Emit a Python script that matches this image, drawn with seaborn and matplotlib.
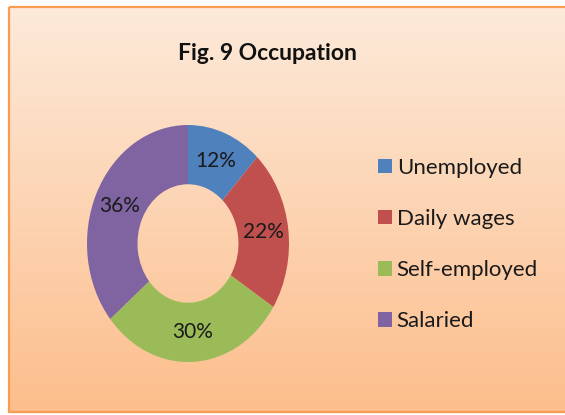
import numpy as np
import matplotlib
matplotlib.use("Agg")
import matplotlib.pyplot as plt
from matplotlib.patches import Rectangle, Patch
import seaborn as sns

categories = ["Unemployed", "Daily wages", "Self-employed", "Salaried"]
values = [12, 22, 30, 36]
title = "Fig. 9 Occupation"

sns.set_theme(style="white")
plt.rcParams['font.family'] = ['Lato', 'DejaVu Sans']
colors = ["#4F81BD", "#C0504D", "#9BBB59", "#8064A2"]

W, H = 565, 415
fig = plt.figure(figsize=(W / 100, H / 100), dpi=100)
fig.patch.set_facecolor("white")

# background gradient panel
bg = fig.add_axes([0, 0, 1, 1])
bg.set_xlim(0, W)
bg.set_ylim(H, 0)
bg.axis("off")
top = np.array([253, 234, 218]) / 255
bot = np.array([252, 190, 140]) / 255
t = np.linspace(0, 1, 256)[:, None]
grad = (top[None, :] * (1 - t) + bot[None, :] * t)[:, None, :]
bg.imshow(grad, extent=[9, W + 5, 412, 7], aspect="auto", zorder=0)
bg.add_patch(Rectangle((9, 7), W, 405, fill=False, edgecolor="#F89C52", lw=1.6, zorder=1))

fig.text(267 / W, 1 - 53 / H, title, ha="center", va="center",
         fontsize=16.5, fontweight="bold", color="#111111")

ax = fig.add_axes([87 / W, (H - 362) / H, 202 / W, 237 / H])
ax.patch.set_alpha(0)
wedges, texts, autotexts = ax.pie(
    values, colors=colors, startangle=90, counterclock=False,
    wedgeprops=dict(width=0.5, linewidth=0),
    autopct="%1.0f%%", pctdistance=0.75,
    textprops=dict(fontsize=15, color="#1a1a1a"))
ax.set_aspect("auto")
ax.set_xlim(-1, 1)
ax.set_ylim(-1, 1)

handles = [Patch(facecolor=c, edgecolor="none") for c in colors]
fig.legend(handles, categories, loc="upper left",
           bbox_to_anchor=(358 / W, 1 - 138 / H), frameon=False,
           fontsize=16, handlelength=0.62, handleheight=0.62,
           handletextpad=0.22, labelspacing=1.40, labelcolor="#1a1a1a")

fig.savefig("out.png", dpi=100)
